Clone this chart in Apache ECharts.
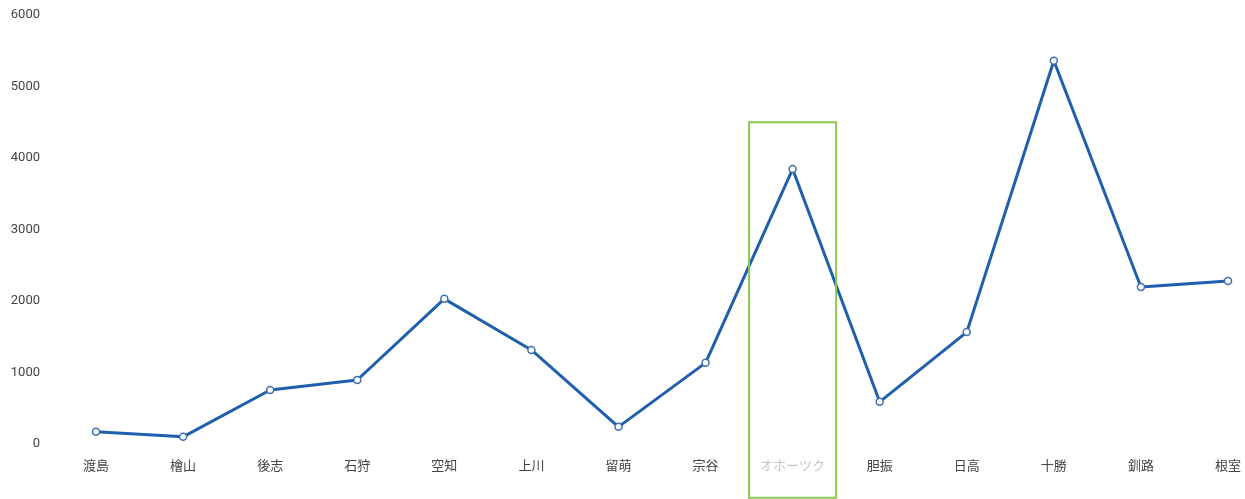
<!DOCTYPE html>
<html>
<head>
<meta charset="utf-8">
<script src="https://cdn.jsdelivr.net/npm/echarts@6/dist/echarts.min.js"></script>
<style>html,body{margin:0;padding:0;background:#fff;}#c{width:1245px;height:499px;}</style>
</head>
<body>
<div id="c"></div>
<script>
const categories = ['渡島','檜山','後志','石狩','空知','上川','留萌','宗谷','オホーツク','胆振','日高','十勝','釧路','根室'];
const values = [170, 100, 755, 895, 2030, 1315, 240, 1135, 3845, 590, 1565, 5360, 2195, 2280];
const yTicks = [0, 1000, 2000, 3000, 4000, 5000, 6000];
const highlightCategory = 'オホーツク';
const highlightTop = 4500;
const highlightBottom = -750;

const chart = echarts.init(document.getElementById('c'));
chart.setOption({
  animation: false,
  backgroundColor: '#fff',
  grid: { left: 96, right: 17, top: 15, bottom: 55, containLabel: false },
  xAxis: {
    type: 'category',
    data: categories,
    boundaryGap: false,
    axisLine: { show: false },
    axisTick: { show: false },
    splitLine: { show: false },
    axisLabel: {
      margin: 15,
      fontSize: 13,
      fontFamily: 'Noto Sans CJK JP',
      color: function (v) { return v === highlightCategory ? '#c4c4c4' : '#444'; }
    }
  },
  yAxis: {
    type: 'value',
    min: yTicks[0],
    max: yTicks[yTicks.length - 1],
    interval: 1000,
    axisLine: { show: false },
    axisTick: { show: false },
    splitLine: { show: false },
    axisLabel: { margin: 56, fontSize: 13, fontFamily: 'Roboto', color: '#444', formatter: function (v) { return String(v); } }
  },
  series: [{
    type: 'line',
    data: values,
    lineStyle: { color: '#1f5fad', width: 3 },
    itemStyle: { color: '#fff', borderColor: '#3f6fae', borderWidth: 1.5 },
    symbol: 'circle',
    symbolSize: 7,
    showAllSymbol: true
  }]
});

const idx = categories.indexOf(highlightCategory);
const c0 = chart.convertToPixel({ xAxisIndex: 0 }, categories[0]);
const c1 = chart.convertToPixel({ xAxisIndex: 0 }, categories[1]);
const half = (c1 - c0) / 2;
const cx = chart.convertToPixel({ xAxisIndex: 0 }, categories[idx]);
const yTop = chart.convertToPixel({ yAxisIndex: 0 }, highlightTop);
const yBot = chart.convertToPixel({ yAxisIndex: 0 }, highlightBottom);
chart.setOption({
  graphic: [{
    type: 'rect',
    shape: { x: cx - half, y: yTop, width: half * 2, height: yBot - yTop },
    style: { fill: 'none', stroke: '#8cc850', lineWidth: 2 },
    z: 100
  }]
});
</script>
</body>
</html>
